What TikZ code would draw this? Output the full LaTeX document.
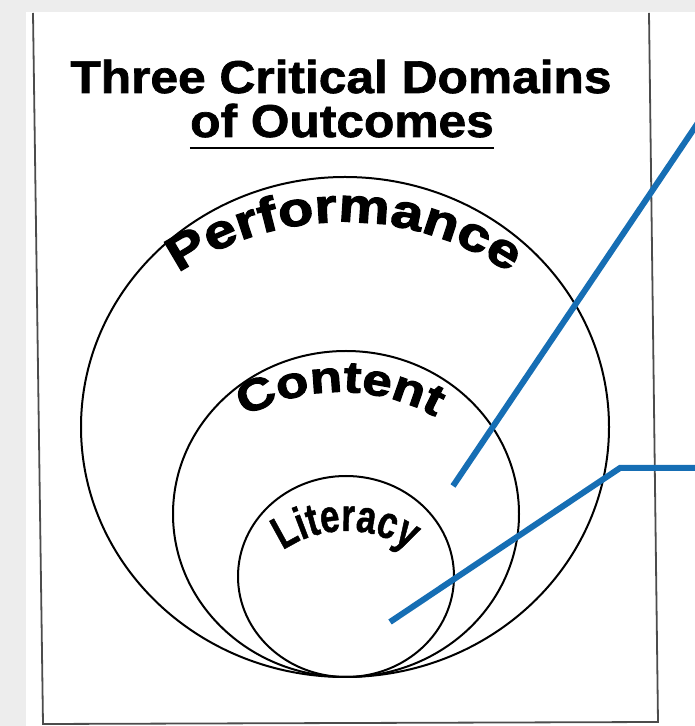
\documentclass[tikz,border=0pt]{standalone}
\usepackage{fontspec}
\usepackage{tikz}
\usetikzlibrary{shapes.geometric,decorations.text}
\newfontfamily\titlefont{Liberation Sans}[FakeStretch=1.08,FakeBold=1.5]
\newfontfamily\ringfont{Liberation Sans}[FakeStretch=1.2,FakeBold=2.5]
\newfontfamily\litfont{Liberation Sans}[FakeStretch=0.76,FakeBold=1]
\definecolor{leaderblue}{RGB}{22,110,180}

\begin{document}
\begin{tikzpicture}[
    x=1pt,y=1pt,
    ring/.style={ellipse,draw,line width=2pt,inner sep=0pt,outer sep=0pt},
    boxline/.style={draw=black!70,line width=1.8pt},
    leader/.style={draw=leaderblue,line width=6pt},
    title/.style={font=\titlefont\bfseries\fontsize{46}{46}\selectfont,inner sep=0pt,anchor=base}
    ]
    \useasboundingbox (0,0) rectangle (695,726);
    \fill[black!7] (0,714) rectangle (695,726);
    \fill[black!7] (0,0) rectangle (26,726);
    \draw[boxline] (33,713) -- (43,2) -- (658,4) -- (649,713);
    % title
    \node[title](t1) at (341,633){Three Critical Domains};
    \node[title](t2) at (342,589){of Outcomes};
    \draw[line width=2.5pt] ([yshift=-11pt]t2.base west) -- ([yshift=-11pt]t2.base east);
    % the three domains
    \node[ring,minimum width=528pt,minimum height=500pt](perf) at (345,299){};
    \node[ring,minimum width=346pt,minimum height=326pt](cont) at (346,212){};
    \node[ring,minimum width=216pt,minimum height=201pt](lit) at (346,149.5){};
    \path[decorate,decoration={text along path,text align=center,
        text={|\ringfont\bfseries\fontsize{48}{48}\selectfont|Performance}}]
        (344,210) ++(135:294) arc[start angle=135,end angle=45,radius=294];
    \path[decorate,decoration={text along path,text align=center,
        text={|\ringfont\bfseries\fontsize{44}{44}\selectfont|Content}}]
        (340,139) ++(140:195) arc[start angle=140,end angle=40,radius=195];
    \path[decorate,decoration={text along path,text align=center,
        text={|\litfont\bfseries\fontsize{46}{46}\selectfont|Literacy}}]
        (346,83) ++(150:112) arc[start angle=150,end angle=30,radius=112];
    % leader lines
    \coordinate (pin1) at (453,240);
    \coordinate (out1) at (710,621);
    \coordinate (pin2) at (390,104);
    \coordinate (bend2) at (620,258);
    \coordinate (out2) at (710,258);
    \draw[leader] (pin1) -- (out1);
    \draw[leader] (pin2) -- (bend2) -- (out2);
\end{tikzpicture}
\end{document}
